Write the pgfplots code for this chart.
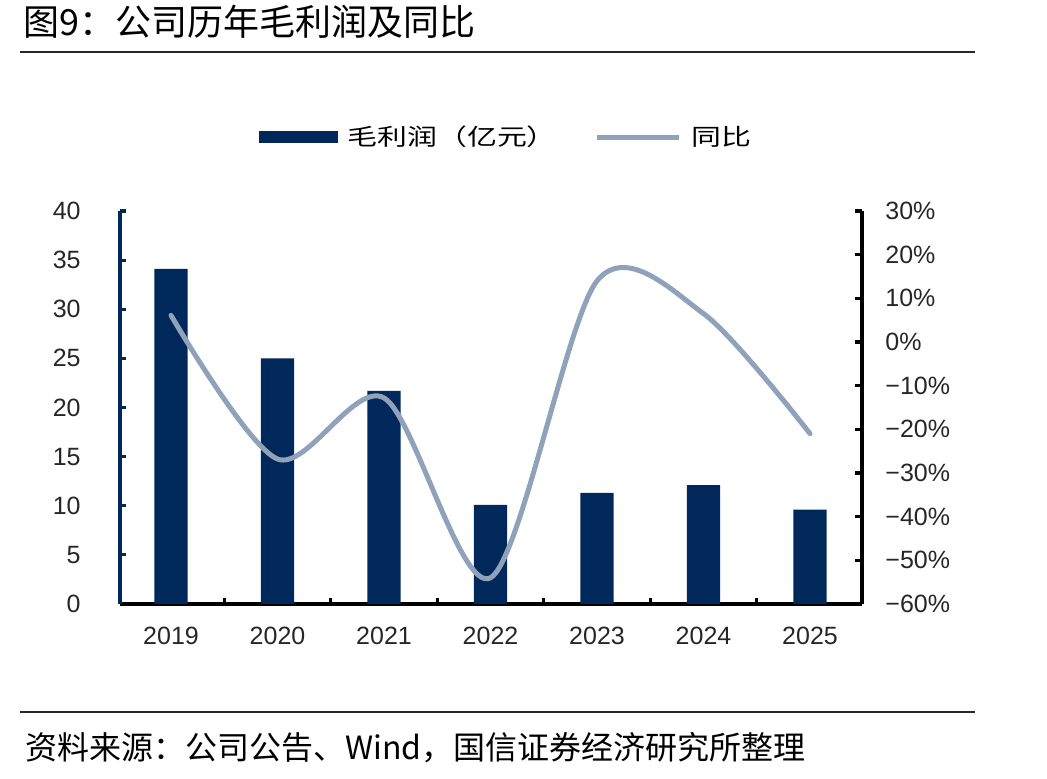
\documentclass[border=0pt]{standalone}
\usepackage{pgfplots}
\pgfplotsset{compat=1.18}
\usepackage{fontspec}
\setmainfont{Liberation Sans}
\newfontfamily\cjk{Noto Sans CJK SC}
\newfontfamily\cjkwide[FakeStretch=1.3]{Noto Sans CJK SC}
\definecolor{navy}{RGB}{0,40,90}
\definecolor{yoy}{RGB}{143,162,186}
\begin{document}
\begin{tikzpicture}
\useasboundingbox (0pt,0pt) rectangle (523.5pt,389.5pt);
\node[anchor=west, inner sep=0pt, font=\cjk\fontsize{18}{18}\selectfont] at (11.5pt,378.5pt) {图9：公司历年毛利润及同比};
\draw[line width=1pt, black!85] (10pt,363.5pt) -- (487.5pt,363.5pt);
\draw[line width=1pt, black!85] (10pt,33.5pt) -- (487.5pt,33.5pt);
\node[anchor=west, inner sep=0pt, font=\cjk\fontsize{16}{16}\selectfont] at (12.5pt,15.5pt) {资料来源：公司公告、Wind，国信证券经济研究所整理};

\begin{axis}[
  at={(60pt,87.5pt)}, anchor=south west,
  scale only axis, width=371pt, height=196.5pt,
  xmin=-0.479, xmax=6.488, ymin=0, ymax=40,
  axis x line*=bottom, axis y line*=left,
  ybar, bar width=0.313,
  ytick={0,5,10,15,20,25,30,35,40},
  yticklabels={0,5,10,15,20,25,30,35,40},
  xtick={0.5,1.5,2.5,3.5,4.5,5.5}, xticklabels={},
  extra x ticks={0,1,2,3,4,5,6},
  extra x tick labels={2019,2020,2021,2022,2023,2024,2025},
  extra x tick style={major tick length=0pt, tick style={draw=none}},
  tick align=inside, major tick length=3pt,
  x axis line style={black, line width=1.6pt, -},
  y axis line style={navy, line width=1.6pt, -},
  xtick style={black, line width=1.6pt},
  ytick style={navy, line width=1.6pt},
  x tick label style={anchor=base, inner sep=0pt, yshift=-20.5pt, font=\fontsize{12.5}{12.5}\selectfont, text=black!85},
  y tick label style={anchor=east, inner sep=0pt, xshift=-19.5pt, font=\fontsize{12.5}{12.5}\selectfont, text=black!85},
  legend style={at={(0.519,1.188)}, anchor=center, draw=none, fill=none,
    legend columns=2, font=\cjkwide\fontsize{11.5}{11.5}\selectfont,
    nodes={inner sep=0pt},
    /tikz/every odd column/.style={column sep=5pt},
    /tikz/every even column/.style={column sep=19pt}},
]
\addplot[fill=navy, draw=none,
  legend image code/.code={\fill[navy] (0pt,-3pt) rectangle (39.5pt,3pt);}]
  coordinates {(0,34.1) (1,25.0) (2,21.7) (3,10.1) (4,11.3) (5,12.1) (6,9.6)};
\addlegendentry{毛利润（亿元）}
\addlegendimage{legend image code/.code={\draw[yoy, line width=2.5pt] (0pt,0pt) -- (41pt,0pt);}}
\addlegendentry{同比}
\end{axis}

\begin{axis}[
  at={(60pt,87.5pt)}, anchor=south west,
  scale only axis, width=371pt, height=196.5pt,
  xmin=-0.479, xmax=6.488, ymin=-60, ymax=30,
  axis x line=none, axis y line*=right,
  ytick={-60,-50,-40,-30,-20,-10,0,10,20,30},
  yticklabels={−60\%,−50\%,−40\%,−30\%,−20\%,−10\%,0\%,10\%,20\%,30\%},
  tick align=inside, major tick length=3.5pt,
  y axis line style={black, line width=1.6pt, -},
  ytick style={black, line width=1.6pt},
  y tick label style={anchor=west, inner sep=0pt, xshift=11.5pt, font=\fontsize{12.5}{12.5}\selectfont, text=black!85},
]
\addplot[yoy, line width=2.5pt, smooth, line cap=round, mark=none]
  coordinates {(0,6.1) (1,-26.8) (2,-12.8) (3,-54.0) (4,14.0) (5,6.5) (6,-21.0)};
\end{axis}
\end{tikzpicture}
\end{document}
